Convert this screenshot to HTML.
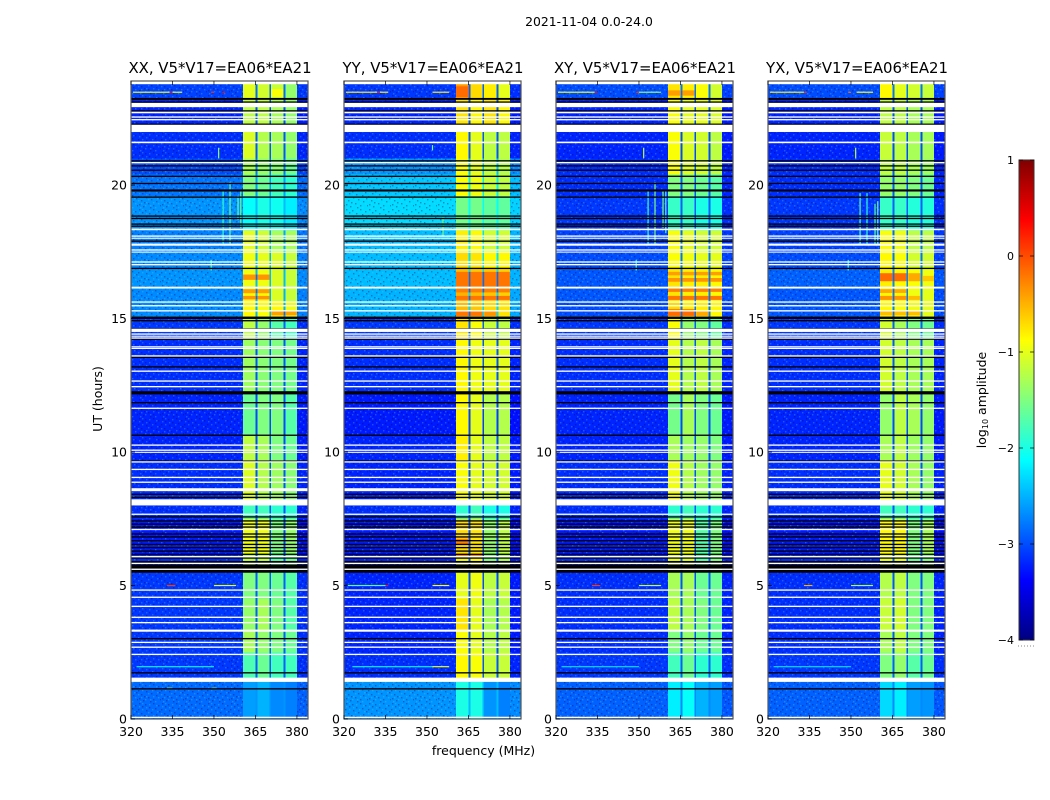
<!DOCTYPE html>
<html lang="en">
<head>
<meta charset="utf-8">
<title>2021-11-04 0.0-24.0</title>
<style>
html,body{margin:0;padding:0;background:#fff;}
svg{display:block;font-family:"DejaVu Sans","Liberation Sans",sans-serif;}
</style>
</head>
<body>
<svg id="figure" xmlns="http://www.w3.org/2000/svg" width="1050" height="800" viewBox="0 0 1050 800">
  <defs>
    <linearGradient id="jet-gradient" x1="0" y1="1" x2="0" y2="0"></linearGradient>
    <pattern id="grain" width="23" height="19" patternUnits="userSpaceOnUse">
      <g fill="#000050" opacity=".34">
        <rect x="1" y="0" width="1.4" height="1.4"/><rect x="7" y="1" width="1.4" height="1.4"/><rect x="15" y="0" width="1.4" height="1.4"/>
        <rect x="20" y="2" width="1.4" height="1.4"/><rect x="4" y="3" width="1.4" height="1.4"/><rect x="11" y="4" width="1.4" height="1.4"/>
        <rect x="17" y="5" width="1.4" height="1.4"/><rect x="0" y="6" width="1.4" height="1.4"/><rect x="8" y="7" width="1.4" height="1.4"/>
        <rect x="21" y="8" width="1.4" height="1.4"/><rect x="13" y="9" width="1.4" height="1.4"/><rect x="3" y="10" width="1.4" height="1.4"/>
        <rect x="18" y="11" width="1.4" height="1.4"/><rect x="6" y="12" width="1.4" height="1.4"/><rect x="10" y="13" width="1.4" height="1.4"/>
        <rect x="1" y="14" width="1.4" height="1.4"/><rect x="15" y="15" width="1.4" height="1.4"/><rect x="22" y="15" width="1.4" height="1.4"/>
        <rect x="5" y="16" width="1.4" height="1.4"/><rect x="12" y="17" width="1.4" height="1.4"/>
      </g>
      <g fill="#60c8ff" opacity=".3">
        <rect x="4" y="0" width="1.4" height="1.4"/><rect x="11" y="1" width="1.4" height="1.4"/><rect x="18" y="2" width="1.4" height="1.4"/>
        <rect x="1" y="3" width="1.4" height="1.4"/><rect x="8" y="4" width="1.4" height="1.4"/><rect x="14" y="6" width="1.4" height="1.4"/>
        <rect x="4" y="6" width="1.4" height="1.4"/><rect x="19" y="8" width="1.4" height="1.4"/><rect x="10" y="9" width="1.4" height="1.4"/>
        <rect x="0" y="10" width="1.4" height="1.4"/><rect x="15" y="12" width="1.4" height="1.4"/><rect x="8" y="12" width="1.4" height="1.4"/>
        <rect x="3" y="13" width="1.4" height="1.4"/><rect x="20" y="13" width="1.4" height="1.4"/><rect x="12" y="15" width="1.4" height="1.4"/>
        <rect x="7" y="15" width="1.4" height="1.4"/><rect x="17" y="17" width="1.4" height="1.4"/><rect x="2" y="17" width="1.4" height="1.4"/>
      </g>
    </pattern>
  </defs>

  <g id="plots"></g>

  <text x="589" y="26" font-size="12.4" text-anchor="middle" fill="#000">2021-11-04 0.0-24.0</text>
  <text x="220" y="73" font-size="14.9" text-anchor="middle" fill="#000">XX, V5*V17=EA06*EA21</text>
  <text x="433" y="73" font-size="14.9" text-anchor="middle" fill="#000">YY, V5*V17=EA06*EA21</text>
  <text x="645" y="73" font-size="14.9" text-anchor="middle" fill="#000">XY, V5*V17=EA06*EA21</text>
  <text x="857" y="73" font-size="14.9" text-anchor="middle" fill="#000">YX, V5*V17=EA06*EA21</text>
  <text x="483.500" y="755" font-size="12.500" text-anchor="middle" fill="#000">frequency (MHz)</text>
  <text transform="translate(102,399) rotate(-90)" font-size="12.500" text-anchor="middle" fill="#000">UT (hours)</text>
  <text transform="translate(986,400) rotate(-90)" font-size="12.500" text-anchor="middle" fill="#000">log<tspan font-size="8" dy="2">10</tspan><tspan dy="-2"> amplitude</tspan></text>

  <g id="colorbar"></g>
</svg>

<script>
// Axis ticks
const freqTicks = [320, 335, 350, 365, 380];
const hourTicks = [0, 5, 10, 15, 20];
const colorTicks = [1, 0, -1, -2, -3, -4];

// Frequency channels (MHz edges) and what each column shows
const freqEdges = [320, 360.5, 365.1, 365.7, 370.1, 370.7, 375.2, 375.8, 380, 384];
const freqKinds = ['bg', 'A', 'gap', 'B', 'gap', 'C', 'gap', 'D', 'tail'];

// Time segments (UT hour edges)
const timeEdges = [0, 1.45, 2.5, 3.3, 4.5, 5.5, 6.2, 7.5, 8.0, 9.7, 10.6, 12.2, 14.2, 15.05, 15.6, 16.1, 16.9, 17.5, 18.3, 19.6, 20.4, 21, 22, 23.2, 23.9];

// log10 amplitude per time segment, XX
const xxBg = [-2.85,-3.1,-3.1,-3.1,-3.1,-3.15,-3.25,-3.15,-3.15,-3.2,-3.2,-3.15,-3.1,-2.7,-2.7,-2.65,-2.7,-2.75,-2.65,-2.8,-3.0,-3.15,-3.2,-3.05];
const xxA = [-2.6,-1.75,-1.3,-1.4,-1.5,-1.2,-0.95,-1.8,-1.05,-1.2,-1.6,-1.35,-1.2,-0.85,-0.85,-0.95,-0.95,-1.0,-2.1,-1.5,-1.3,-1.05,-1.2,-1.0];
const xxB = [-2.5,-1.6,-1.4,-1.3,-1.5,-1.2,-0.95,-1.8,-1.25,-1.3,-1.5,-1.45,-1.4,-0.9,-0.85,-0.95,-1.0,-1.1,-2.0,-1.6,-1.4,-1.25,-1.2,-1.1];
const xxC = [-2.7,-1.8,-1.5,-1.5,-1.6,-1.7,-1.5,-1.9,-1.35,-1.5,-1.5,-1.5,-1.7,-0.85,-1.05,-1.05,-1.05,-1.3,-2.05,-1.8,-1.45,-1.3,-1.3,-1.15];
const xxD = [-2.75,-1.8,-1.6,-1.7,-1.7,-1.6,-1.4,-1.9,-1.45,-1.6,-1.7,-1.55,-1.8,-0.95,-1.15,-1.15,-1.15,-1.3,-2.2,-1.9,-1.6,-1.4,-1.4,-1.4];

// log10 amplitude per time segment, YY
const yyBg = [-2.65,-3.15,-3.2,-3.2,-3.2,-3.2,-3.25,-3.15,-3.2,-3.2,-3.25,-3.15,-3.1,-2.5,-2.5,-2.45,-2.45,-2.45,-2.3,-2.4,-2.65,-3.15,-3.2,-3.1];
const yyA = [-2.0,-0.85,-0.9,-0.75,-1,-1,-0.7,-1.9,-0.9,-0.8,-0.85,-0.85,-0.75,-0.55,-0.5,-0.55,-0.7,-0.8,-1.55,-0.9,-0.9,-0.85,-0.75,-0.4];
const yyB = [-2.0,-0.9,-1,-1,-0.95,-0.9,-0.75,-1.8,-1,-1,-1,-0.95,-0.9,-0.6,-0.55,-0.6,-0.75,-0.85,-1.55,-0.95,-1,-1,-0.85,-0.7];
const yyC = [-2.65,-1.15,-1.25,-1.3,-1.2,-1.5,-1.4,-2,-1.1,-1.2,-1.25,-1,-1.15,-0.7,-0.6,-0.6,-0.85,-1.1,-1.65,-1.15,-1.2,-1.2,-0.75,-0.8];
const yyD = [-2.75,-1.15,-1.2,-1.25,-1.15,-1.3,-1.2,-2,-1.1,-1.2,-1.25,-1,-1.2,-0.75,-0.65,-0.65,-0.85,-1.1,-1.65,-1.2,-1.25,-1.2,-0.85,-1];

// log10 amplitude per time segment, XY
const xyBg = [-2.9,-3.1,-3.15,-3.15,-3.15,-3.15,-3.25,-3.15,-3.15,-3.2,-3.2,-3.15,-3.1,-3.0,-2.95,-2.95,-3.0,-3.05,-3.1,-3.15,-3.15,-3.2,-3.2,-3.0];
const xyA = [-2.2,-1.8,-1.5,-1.2,-1.3,-1,-0.95,-1.9,-0.95,-1.3,-1.55,-1,-0.9,-0.7,-0.75,-0.75,-0.9,-0.9,-1.85,-1.5,-0.9,-0.9,-0.9,-0.75];
const xyB = [-2.1,-1.6,-1.4,-1.3,-1.3,-1.05,-0.95,-1.8,-1.25,-1.35,-1.3,-1.25,-1.4,-0.8,-0.8,-0.8,-0.95,-1,-1.85,-1.5,-1.05,-1.05,-1,-0.8];
const xyC = [-2.5,-1.9,-1.6,-1.5,-1.6,-1.7,-1.7,-1.9,-1.35,-1.4,-1.5,-1.2,-1.5,-0.8,-0.8,-0.8,-1,-1.1,-2,-1.6,-1.1,-1.1,-1,-0.9];
const xyD = [-2.6,-1.9,-1.6,-1.6,-1.6,-1.5,-1.5,-1.9,-1.4,-1.5,-1.6,-1.3,-1.65,-0.85,-0.85,-0.85,-1,-1.1,-2,-1.7,-1.2,-1.2,-1.05,-1.1];

// log10 amplitude per time segment, YX
const yxBg = [-2.9,-3.1,-3.15,-3.15,-3.15,-3.15,-3.25,-3.15,-3.15,-3.2,-3.2,-3.15,-3.1,-2.95,-2.95,-2.9,-3.0,-3.05,-3.1,-3.15,-3.15,-3.2,-3.2,-3.0];
const yxA = [-2.3,-1.5,-1.3,-1.15,-1.25,-1,-0.85,-1.8,-1,-1.3,-1.4,-1.1,-1.1,-0.85,-0.85,-0.8,-0.85,-0.9,-1.85,-1.4,-1.2,-1.15,-1.2,-0.85];
const yxB = [-2.2,-1.4,-1.2,-1.1,-1.2,-1,-0.85,-1.8,-1.1,-1.2,-1.2,-1.2,-1.3,-0.9,-0.85,-0.85,-0.9,-0.95,-1.85,-1.4,-1.2,-1.2,-1.2,-1.0];
const yxC = [-2.6,-1.7,-1.5,-1.5,-1.5,-1.6,-1.5,-1.9,-1.3,-1.35,-1.3,-1.3,-1.5,-0.95,-0.95,-0.9,-1.1,-1.2,-1.95,-1.5,-1.3,-1.3,-1.3,-1.1];
const yxD = [-2.65,-1.6,-1.5,-1.5,-1.5,-1.5,-1.3,-1.9,-1.4,-1.4,-1.4,-1.3,-1.6,-1,-1,-0.95,-1.1,-1.2,-1.95,-1.6,-1.35,-1.3,-1.3,-1.15];

// Bright bursts inside the band: [startHour, endHour, startMHz, endMHz, log10 amplitude]
const xxBursts = [[16.45,16.65,360.5,370.1,-0.35],[15.95,16.1,360.5,370.1,-0.4],[15.72,15.85,360.5,370.1,-0.35],[15.12,15.28,370.7,380,-0.4],[23.3,23.6,370.7,375,-0.9]];
const yyBursts = [[16.2,16.75,360.5,380,-0.2],[15.98,16.14,360.5,380,-0.25],[15.7,15.85,360.5,380,-0.2],[15.1,15.3,360.5,370.1,-0.2],[15.1,15.3,370.7,375.2,-0.35],[23.3,23.7,360.5,365.1,-0.15],[6.55,6.75,360.5,365.1,-0.25],[6.0,6.15,360.5,370.1,-0.3]];
const xyBursts = [[16.62,16.75,360.5,380,-0.4],[16.38,16.52,360.5,380,-0.35],[16.0,16.14,360.5,380,-0.25],[15.7,15.85,360.5,380,-0.2],[15.1,15.35,360.5,370.1,-0.15],[15.1,15.3,370.7,375.2,-0.45],[23.35,23.55,360.5,370.1,-0.4]];
const yxBursts = [[16.4,16.7,360.5,370.1,-0.15],[16.4,16.7,370.7,375.2,-0.45],[16.4,16.6,375.8,380,-0.6],[15.96,16.1,360.5,370.1,-0.45],[15.7,15.85,360.5,370.1,-0.35],[15.7,15.85,370.7,375.2,-0.55],[15.12,15.28,360.5,375.2,-0.55]];

// Narrow-band interference: [hour, startMHz, endMHz, log10 amplitude]
const xxTones = [[23.48,320.7,334,-0.95],[23.48,334,335,0.3],[23.48,335,338.5,-1],[23.48,349,350,0.1],[23.48,353,354,0.3],[18.35,320,334,-1.7],[18.35,334,335,0.3],[18.35,349,350,0.1],[5,333,336,0.1],[5,350,358,-1.0],[1.96,322,350,-2.2],[1.15,333,335,-0.9],[1.15,349,351,-0.9]];
const yyTones = [[23.48,320.7,332,-0.8],[23.48,332,333,0.2],[23.48,333,336,-0.8],[23.48,352,358,-0.8],[18.35,320,348,-1.2],[18.35,333,336,0.3],[18.35,345,346,-0.2],[5,321,335,-1.7],[5,335,336,0.3],[5,352,358,-0.9],[1.96,323,352,-2.2],[1.96,352,358,-1.0]];
const xyTones = [[23.48,320.7,334,-0.95],[23.48,334,335,0.3],[23.48,349,350,0.1],[23.48,350,358,-1.4],[18.35,320,334,-0.9],[18.35,334,335,0.3],[18.35,335,342,-0.9],[18.35,349,350,0.1],[5,333,336,0.1],[5,350,358,-1.2],[1.96,322,350,-2.3]];
const yxTones = [[23.48,320.7,333,-0.8],[23.48,333,334,0.1],[23.48,349,350,-0.2],[23.48,352,358,-0.9],[18.35,320,332,-1.0],[18.35,334,335,0.2],[18.35,349,350,-0.2],[5,333,336,-0.5],[5,350,358,-1.3],[1.96,322,350,-2.3]];

// Vertical interference: [MHz, startHour, endHour, log10 amplitude]
const xxSpurs = [[353.3,17.75,19.8,-1.9],[355.8,17.75,20.1,-1.6],[358.7,18.7,19.6,-1.6],[359.7,18.4,19.8,-1.6],[351.7,21,21.4,-1.4],[349,16.8,17.2,-1.8]];
const yySpurs = [[355.8,18.1,18.8,-1.6],[352,21.3,21.5,-1.6]];
const xySpurs = [[353.3,17.75,19.8,-1.8],[355.8,17.75,20.1,-1.5],[358.7,18.4,19.8,-1.5],[359.7,18.2,19.8,-1.7],[351.7,21,21.4,-1.2],[349,16.8,17.2,-1.8]];
const yxSpurs = [[353.3,17.75,19.7,-1.7],[355.8,17.75,19.7,-1.9],[358.7,17.75,19.3,-1.7],[359.7,17.75,19.4,-1.6],[351.7,21,21.4,-1.2],[349,16.8,17.2,-1.8]];

// Flagged integrations: [centre hour, duration in hours]
const whiteRows = [[23.84,0.12],[23,0.16],[22.72,0.06],[22.55,0.05],[22.45,0.05],[22.125,0.27],[21.6,0.06],[20.84,0.05],[18.34,0.06],[18.09,0.05],[18.01,0.04],[17.77,0.08],[17.57,0.05],[17.49,0.04],[17.12,0.05],[17.02,0.05],[16.16,0.07],[15.62,0.05],[15.48,0.05],[15.29,0.05],[14.56,0.12],[14.42,0.05],[14.34,0.04],[14.27,0.05],[13.94,0.05],[13.88,0.04],[13.6,0.05],[13.03,0.05],[12.66,0.05],[12.45,0.05],[11.64,0.05],[10.26,0.05],[10.07,0.05],[9.99,0.04],[9.63,0.05],[9.35,0.05],[9.05,0.05],[8.87,0.05],[8.59,0.11],[8.115,0.23],[7.67,0.05],[7.1,0.05],[6.08,0.05],[5.83,0.05],[5.61,0.05],[4.83,0.05],[4.56,0.05],[4.22,0.05],[3.81,0.05],[3.61,0.05],[3.31,0.08],[2.87,0.05],[2.69,0.05],[2.42,0.05],[1.47,0.16],[0.06,0.05]];
const blackRows = [[23.23,0.07],[23.11,0.05],[22.78,0.05],[22.28,0.05],[20.91,0.05],[20.72,0.05],[20.56,0.05],[20.33,0.05],[20.06,0.05],[19.8,0.08],[19.55,0.05],[18.84,0.05],[18.75,0.05],[18.54,0.05],[18.46,0.05],[17.9,0.05],[16.88,0.05],[15.03,0.09],[14.92,0.05],[14.61,0.05],[14.23,0.05],[13.55,0.05],[13.19,0.05],[12.22,0.12],[11.85,0.05],[10.63,0.05],[9.66,0.05],[8.42,0.05],[8.3,0.05],[7.57,0.05],[7.42,0.05],[7.3,0.05],[7.19,0.05],[6.93,0.05],[6.82,0.05],[6.68,0.05],[6.54,0.05],[6.42,0.05],[6.29,0.05],[6.17,0.05],[6.03,0.05],[5.88,0.08],[5.705,0.17],[5.53,0.1],[3.01,0.05],[1.73,0.05],[1.13,0.05]];

// Panel layout
const panelKeys = ['xx', 'yy', 'xy', 'yx'];
const panelLefts = [131, 344, 556, 768];
const panelBg = [xxBg, yyBg, xyBg, yxBg];
const panelA = [xxA, yyA, xyA, yxA];
const panelB = [xxB, yyB, xyB, yxB];
const panelC = [xxC, yyC, xyC, yxC];
const panelD = [xxD, yyD, xyD, yxD];
const panelBursts = [xxBursts, yyBursts, xyBursts, yxBursts];
const panelTones = [xxTones, yyTones, xyTones, yxTones];
const panelSpurs = [xxSpurs, yySpurs, xySpurs, yxSpurs];

const NS = 'http://www.w3.org/2000/svg';
const PANEL_W = 177, PANEL_TOP = 81, PANEL_BOTTOM = 719;
const FREQ_MIN = 320, FREQ_MAX = 384, HOUR_TOP = 23.9;

function xScale(left, f) { return left + (f - FREQ_MIN) / (FREQ_MAX - FREQ_MIN) * PANEL_W; }
function yScale(h) { return PANEL_BOTTOM - h / HOUR_TOP * (PANEL_BOTTOM - PANEL_TOP); }
function jetPart(t, c) { return Math.max(0, Math.min(1, 1.5 - Math.abs(4 * t - c))); }
function jet(v) {
  const t = Math.max(0, Math.min(1, (v + 4) / 5));
  const r = Math.round(255 * jetPart(t, 3));
  const g = Math.round(255 * jetPart(t, 2));
  const b = Math.round(255 * jetPart(t, 1));
  return 'rgb(' + r + ',' + g + ',' + b + ')';
}
function make(tag, attrs, parent) {
  const el = document.createElementNS(NS, tag);
  for (const k in attrs) el.setAttribute(k, attrs[k]);
  parent.appendChild(el);
  return el;
}
function cellValue(p, kind, t) {
  if (kind === 'bg') return panelBg[p][t];
  if (kind === 'tail') return panelBg[p][t] - 0.05;
  if (kind === 'gap') return panelBg[p][t] + 0.2;
  if (kind === 'A') return panelA[p][t];
  if (kind === 'B') return panelB[p][t];
  if (kind === 'C') return panelC[p][t];
  return panelD[p][t];
}

const plots = document.getElementById('plots');
panelKeys.forEach(function (key, p) {
  const left = panelLefts[p];
  const g = make('g', {}, plots);
  
  

  // heatmap cells
  for (let t = 0; t < timeEdges.length - 1; t++) {
    const y0 = yScale(timeEdges[t + 1]), y1 = yScale(timeEdges[t]);
    for (let c = 0; c < freqKinds.length; c++) {
      const x0 = xScale(left, freqEdges[c]), x1 = xScale(left, freqEdges[c + 1]);
      const cell = make('rect', { x: x0, y: y0, width: x1 - x0, height: y1 - y0, fill: jet(cellValue(p, freqKinds[c], t)), 'shape-rendering': 'crispEdges' }, g);
      
      
    }
  }

  // bursts inside the band
  panelBursts[p].forEach(function (d) {
    const x0 = xScale(left, d[2]), x1 = xScale(left, d[3]);
    const y0 = yScale(d[1]), y1 = yScale(d[0]);
    const blockEdges = [365.1, 365.7, 370.1, 370.7, 375.2, 375.8];
    const burst = make('rect', { x: x0, y: y0, width: x1 - x0, height: y1 - y0, fill: jet(d[4]) }, g);
    
    
    for (let i = 0; i < blockEdges.length; i += 2) {
      if (blockEdges[i] > d[2] && blockEdges[i + 1] < d[3]) {
        const gx = xScale(left, blockEdges[i]);
        const gapCover = make('rect', { x: gx, y: y0, width: xScale(left, blockEdges[i + 1]) - gx, height: y1 - y0, fill: '#0a6cf0' }, g);
        
        
      }
    }
  });

  // receiver noise texture, outside the band only
  const grainLeftW = xScale(left, freqEdges[1]) - left;
  const grainLeft = make('rect', { x: left, y: PANEL_TOP, width: grainLeftW, height: PANEL_BOTTOM - PANEL_TOP, fill: 'url(#grain)' }, g);
  
  
  const tailX = xScale(left, freqEdges[8]);
  const grainTail = make('rect', { x: tailX, y: PANEL_TOP, width: left + PANEL_W - tailX, height: PANEL_BOTTOM - PANEL_TOP, fill: 'url(#grain)' }, g);
  
  

  // interference
  panelTones[p].forEach(function (d) {
    const x0 = xScale(left, d[1]), x1 = xScale(left, d[2]);
    const tone = make('rect', { x: x0, y: yScale(d[0]) - 0.6, width: x1 - x0, height: 1.2, fill: jet(d[3]) }, g);
    
    
  });
  panelSpurs[p].forEach(function (d) {
    const y0 = yScale(d[2]), y1 = yScale(d[1]);
    const spur = make('rect', { x: xScale(left, d[0]) - 0.6, y: y0, width: 1.2, height: y1 - y0, fill: jet(d[3]) }, g);
    
    
  });

  // flagged rows
  blackRows.forEach(function (d) {
    const h = d[1] / HOUR_TOP * (PANEL_BOTTOM - PANEL_TOP);
    const row = make('rect', { x: left, y: yScale(d[0]) - h / 2, width: PANEL_W, height: h, fill: '#000' }, g);
    
    
  });
  whiteRows.forEach(function (d) {
    const h = d[1] / HOUR_TOP * (PANEL_BOTTOM - PANEL_TOP);
    const row = make('rect', { x: left, y: yScale(d[0]) - h / 2, width: PANEL_W, height: h, fill: '#fff' }, g);
    
    
  });

  // frame
  const frame = make('rect', { x: left, y: PANEL_TOP, width: PANEL_W, height: PANEL_BOTTOM - PANEL_TOP, fill: 'none', stroke: '#555', 'stroke-width': 1.2 }, g);
  
  

  // x ticks
  freqTicks.forEach(function (f) {
    const x = xScale(left, f);
    const tb = make('line', { x1: x, x2: x, y1: PANEL_BOTTOM, y2: PANEL_BOTTOM - 4, stroke: '#000', 'stroke-width': 0.7 }, g);
    
    
    const tt = make('line', { x1: x, x2: x, y1: PANEL_TOP, y2: PANEL_TOP + 4, stroke: '#000', 'stroke-width': 0.7 }, g);
    
    
    const label = make('text', { x: x, y: 736, 'font-size': 12.5, 'text-anchor': 'middle', fill: '#000' }, g);
    
    
    label.textContent = f;
  });

  // y ticks
  hourTicks.forEach(function (h) {
    const y = yScale(h);
    const tick = make('line', { x1: left, x2: left + 4, y1: y, y2: y, stroke: '#000', 'stroke-width': 0.7 }, g);
    
    
    const label = make('text', { x: left - 4, y: y + 4.5, 'font-size': 12.5, 'text-anchor': 'end', fill: '#000' }, g);
    
    
    label.textContent = h;
  });
});

// Colour bar
const grad = document.getElementById('jet-gradient');
for (let i = 0; i <= 40; i++) {
  make('stop', { offset: (i / 40 * 100) + '%', 'stop-color': jet(-4 + i / 8) }, grad);
}
const cb = document.getElementById('colorbar');
const CB_X = 1019, CB_W = 15, CB_TOP = 160, CB_BOTTOM = 640;
function cbY(v) { return CB_BOTTOM - (v + 4) / 5 * (CB_BOTTOM - CB_TOP); }
const cbBar = make('rect', { x: CB_X, y: CB_TOP, width: CB_W, height: CB_BOTTOM - CB_TOP, fill: 'url(#jet-gradient)', stroke: '#333', 'stroke-width': 1 }, cb);


colorTicks.forEach(function (v) {
  const y = cbY(v);
  const a = make('line', { x1: CB_X, x2: CB_X + 4, y1: y, y2: y, stroke: '#000', 'stroke-width': 0.7 }, cb);
  
  
  const b = make('line', { x1: CB_X + CB_W - 4, x2: CB_X + CB_W, y1: y, y2: y, stroke: '#000', 'stroke-width': 0.7 }, cb);
  
  
  const label = make('text', { x: CB_X - 5, y: y + 4, 'font-size': 11, 'text-anchor': 'end', fill: '#000' }, cb);
  
  
  label.textContent = String(v).replace('-', '\u2212');
});
const cbDots = make('line', { x1: 1018, x2: 1034, y1: 646, y2: 646, stroke: '#888', 'stroke-width': 1, 'stroke-dasharray': '1 2' }, cb);


</script>
</body>
</html>
